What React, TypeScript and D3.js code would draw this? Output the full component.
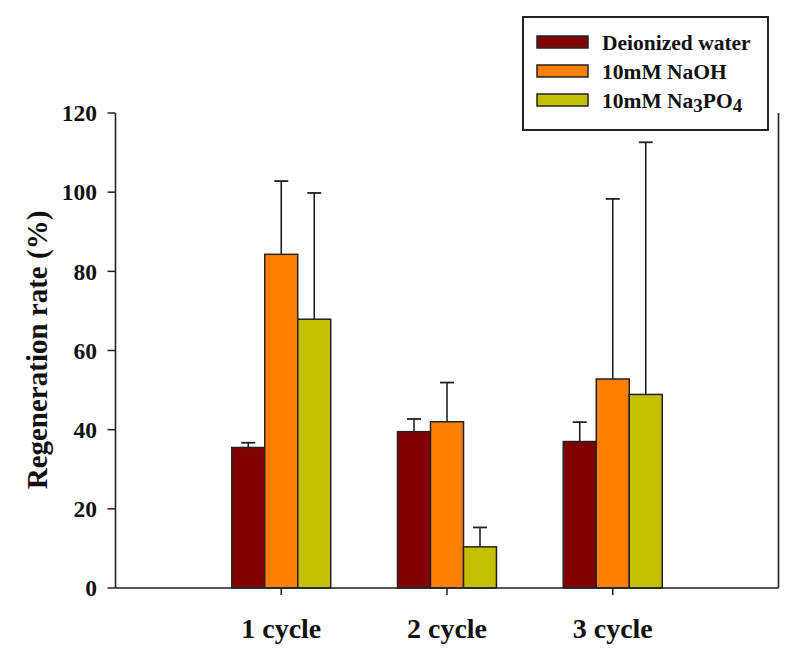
import React from "react";
import * as d3 from "d3";

const categories = ["1 cycle", "2 cycle", "3 cycle"];
const seriesNames = ["Deionized water", "10mM NaOH", "10mM Na3PO4"];
const deionized = [35.5, 39.5, 37];
const naoh = [84.3, 42, 52.8];
const na3po4 = [67.9, 10.4, 48.9];
const deionizedErr = [1.2, 3.2, 4.9];
const naohErr = [18.5, 9.9, 45.5];
const na3po4Err = [31.9, 4.9, 63.7];
const yTicks = [0, 20, 40, 60, 80, 100, 120];
const colors = ["#800000", "#FF8000", "#C2C000"];

const W = 807;
const H = 659;
const FONT = "'Liberation Serif', 'Times New Roman', serif";

export default function App() {
  const values = [deionized, naoh, na3po4];
  const errs = [deionizedErr, naohErr, na3po4Err];
  const y = d3.scaleLinear().domain([0, 120]).range([588, 113]);
  const x = d3.scaleLinear().domain([0, 4]).range([115.5, 778.5]);
  const barW = 33;
  const left = x(0);
  const right = x(4);

  return (
    <svg width={W} height={H} style={{ position: "absolute", left: 0, top: 0, background: "#fff" }}>
      {categories.map((c, ci) => (
        <g key={c}>
          {values.map((vals, si) => {
            const bx = x(ci + 1) - 1.5 * barW + si * barW;
            const top = y(vals[ci]);
            const cx = bx + barW / 2;
            const et = y(vals[ci] + errs[si][ci]);
            return (
              <g key={si}>
                <line x1={cx} x2={cx} y1={top} y2={et} stroke="#222" strokeWidth={1.6} />
                <line x1={cx - 7} x2={cx + 7} y1={et} y2={et} stroke="#222" strokeWidth={1.8} />
                <rect x={bx} y={top} width={barW} height={y(0) - top} fill={colors[si]} stroke="#222" strokeWidth={1.5} />
              </g>
            );
          })}
        </g>
      ))}
      <line x1={left} x2={left} y1={y(120)} y2={y(0)} stroke="#222" strokeWidth={1.6} />
      <line x1={right} x2={right} y1={y(120)} y2={y(0)} stroke="#222" strokeWidth={1.6} />
      <line x1={left} x2={right} y1={y(0)} y2={y(0)} stroke="#222" strokeWidth={1.6} />
      {yTicks.map((t) => (
        <g key={t}>
          <line x1={left - 8} x2={left} y1={y(t)} y2={y(t)} stroke="#222" strokeWidth={1.5} />
          <text x={97} y={y(t)} dy="0.35em" textAnchor="end" fontFamily={FONT} fontWeight="bold" fontSize={23.5} fill="#111">
            {t}
          </text>
        </g>
      ))}
      {categories.map((c, ci) => (
        <g key={c}>
          <line x1={x(ci + 1)} x2={x(ci + 1)} y1={y(0)} y2={y(0) + 7} stroke="#222" strokeWidth={1.5} />
          <text x={x(ci + 1)} y={638} textAnchor="middle" fontFamily={FONT} fontWeight="bold" fontSize={28} fill="#111">
            {c}
          </text>
        </g>
      ))}
      <text
        transform={`translate(47, 350) rotate(-90)`}
        textAnchor="middle"
        fontFamily={FONT}
        fontWeight="bold"
        fontSize={29}
        fill="#111"
      >
        Regeneration rate (%)
      </text>
      <rect x={523} y={17} width={245} height={113} fill="#fff" stroke="#222" strokeWidth={2} />
      {seriesNames.map((s, i) => {
        const cy = 42 + i * 29;
        return (
          <g key={s}>
            <rect x={537} y={cy - 6} width={51} height={12} fill={colors[i]} stroke="#222" strokeWidth={1.5} />
            <text x={602} y={cy} dy="0.35em" fontFamily={FONT} fontWeight="bold" fontSize={21.5} fill="#111">
              {i === 2 ? (
                <>
                  10mM Na
                  <tspan fontSize={19} dy={4}>3</tspan>
                  <tspan dy={-4}>PO</tspan>
                  <tspan fontSize={19} dy={4}>4</tspan>
                </>
              ) : (
                s
              )}
            </text>
          </g>
        );
      })}
    </svg>
  );
}
